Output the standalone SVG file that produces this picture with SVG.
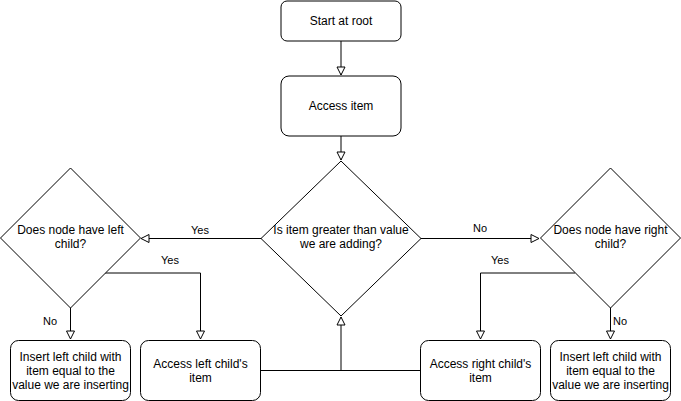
<svg xmlns="http://www.w3.org/2000/svg" width="681" height="401" viewBox="0 0 681 401">
<defs>
<marker id="arr" viewBox="0 0 10 10" refX="9" refY="5" markerWidth="10" markerHeight="10" markerUnits="userSpaceOnUse" orient="auto">
<path d="M1,1 L9,5 L1,9 Z" fill="#fff" stroke="#000" stroke-width="1"/>
</marker>
<style>
.n{fill:#fff;stroke:#000;stroke-width:1}
.t{font-family:"Liberation Sans",Arial,sans-serif;font-size:12px;fill:#000;text-anchor:middle}
.l{font-family:"Liberation Sans",Arial,sans-serif;font-size:11px;fill:#000;text-anchor:middle}
.c{fill:none;stroke:#000;stroke-width:1}
</style>
</defs>
<rect width="681" height="401" fill="#fff"/>
<g id="connectors">
<path class="c" d="M341,41 V75" marker-end="url(#arr)"/>
<path class="c" d="M341,136 V160" marker-end="url(#arr)"/>
<path class="c" d="M261,238.5 H141" marker-end="url(#arr)"/>
<path class="c" d="M421,238.5 H539" marker-end="url(#arr)"/>
<path class="c" d="M70.5,308 V339" marker-end="url(#arr)"/>
<path class="c" d="M105,273 H200.5 V339" marker-end="url(#arr)"/>
<path class="c" d="M575,273 H480.5 V339" marker-end="url(#arr)"/>
<path class="c" d="M610.5,308 V339" marker-end="url(#arr)"/>
<path class="c" d="M260,370.5 H341 V317" marker-end="url(#arr)"/>
<path class="c" d="M421,370.5 H341"/>
<text class="l" x="200" y="234">Yes</text>
<text class="l" x="170" y="264">Yes</text>
<text class="l" x="50" y="325">No</text>
<text class="l" x="480" y="232">No</text>
<text class="l" x="500" y="264">Yes</text>
<text class="l" x="620" y="325">No</text>
</g>
<g id="start">
<rect class="n" x="281" y="1" width="120" height="40" rx="6"/>
<text class="t" x="341" y="25">Start at root</text>
</g>
<g id="access-item">
<rect class="n" x="281" y="76" width="120" height="60" rx="8"/>
<text class="t" x="341" y="110">Access item</text>
</g>
<g id="greater">
<polygon class="n" points="341,161 421,238.5 341,316 261,238.5"/>
<text class="t" x="341" y="234">Is item greater than value</text>
<text class="t" x="341" y="248">we are adding?</text>
</g>
<g id="has-left">
<polygon class="n" points="70.5,168 140.5,238 70.5,308 0.5,238"/>
<text class="t" x="70.5" y="234">Does node have left</text>
<text class="t" x="70.5" y="248">child?</text>
</g>
<g id="has-right">
<polygon class="n" points="610.5,168 680.5,238 610.5,308 540.5,238"/>
<text class="t" x="610.5" y="234">Does node have right</text>
<text class="t" x="610.5" y="248">child?</text>
</g>
<g id="insert-left">
<rect class="n" x="10.5" y="340.5" width="120" height="60" rx="8"/>
<text class="t" x="70.5" y="361">Insert left child with</text>
<text class="t" x="70.5" y="375">item equal to the</text>
<text class="t" x="70.5" y="389">value we are inserting</text>
</g>
<g id="access-left">
<rect class="n" x="140.5" y="340.5" width="120" height="60" rx="8"/>
<text class="t" x="200.5" y="368">Access left child's</text>
<text class="t" x="200.5" y="382">item</text>
</g>
<g id="access-right">
<rect class="n" x="420.5" y="340.5" width="120" height="60" rx="8"/>
<text class="t" x="480.5" y="368">Access right child's</text>
<text class="t" x="480.5" y="382">item</text>
</g>
<g id="insert-right">
<rect class="n" x="550.5" y="340.5" width="120" height="60" rx="8"/>
<text class="t" x="610.5" y="361">Insert left child with</text>
<text class="t" x="610.5" y="375">item equal to the</text>
<text class="t" x="610.5" y="389">value we are inserting</text>
</g>
</svg>
